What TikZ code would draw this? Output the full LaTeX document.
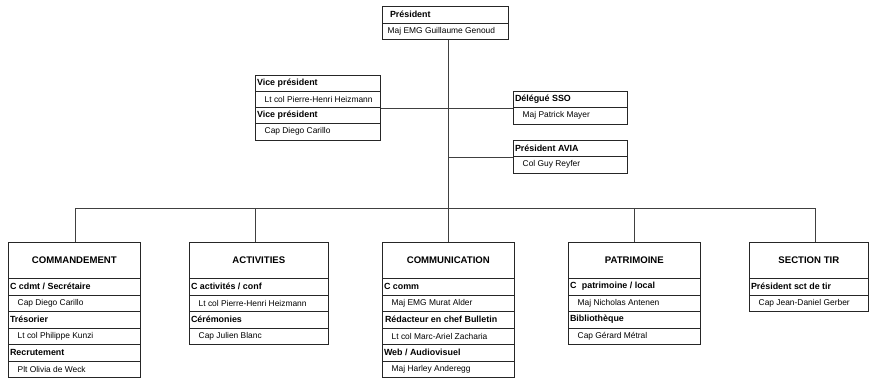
\documentclass[tikz,border=0pt]{standalone}
\usepackage{fontspec}
\setmainfont{Liberation Sans}
\tikzset{
  x=1pt, y=-1pt,
  cell/.style={draw=black!85, line width=0.7pt, rectangle, inner sep=0pt, anchor=north west, minimum height=16.5pt, fill=white},
  hdrtext/.style={anchor=west, xshift=1.8pt, inner sep=0pt, font=\fontsize{8.9}{10}\selectfont\bfseries},
  nmtext/.style={anchor=west, xshift=9.5pt, inner sep=0pt, font=\fontsize{8.4}{10}\selectfont},
  ttl/.style={draw=black!85, line width=0.7pt, rectangle, inner sep=0pt, anchor=north west, minimum height=36pt, font=\fontsize{9.6}{11}\selectfont\bfseries},
  conn/.style={draw=black!75, line width=0.7pt}
}
\newcommand\hrow[5]{\node[cell, minimum width=#4pt] (#1) at (#2,#3) {}; \node[hdrtext] (#1t) at (#1.west) {#5};}
\newcommand\nrow[5]{\node[cell, minimum width=#4pt] (#1) at (#2,#3) {}; \node[nmtext] (#1t) at (#1.west) {#5};}
\begin{document}
\begin{tikzpicture}
\useasboundingbox (0,0) rectangle (881,378);
% Président
\hrow{p1}{382}{6}{126}{\hspace{6pt}Président}
\nrow{p2}{382}{22.5}{126}{\hspace{-4pt}Maj EMG Guillaume Genoud}
% Vice présidents
\hrow{v1}{255}{75}{125}{Vice président}
\nrow{v2}{255}{91}{125}{Lt col Pierre-Henri Heizmann}
\hrow{v3}{255}{107}{125}{Vice président}
\nrow{v4}{255}{123}{125}{Cap Diego Carillo}
% Délégué SSO
\hrow{s1}{513}{91}{114}{Délégué SSO}
\nrow{s2}{513}{107}{114}{Maj Patrick Mayer}
% Président AVIA
\hrow{a1}{513}{140}{114}{Président AVIA}
\nrow{a2}{513}{156}{114}{Col Guy Reyfer}
% Commandement
\node[ttl, minimum width=132pt] (cmdT) at (8,242) {COMMANDEMENT};
\hrow{c1}{8}{278}{132}{C cdmt / Secrétaire}
\nrow{c2}{8}{294.5}{132}{Cap Diego Carillo}
\hrow{c3}{8}{311}{132}{Trésorier}
\nrow{c4}{8}{327.5}{132}{Lt col Philippe Kunzi}
\hrow{c5}{8}{344}{132}{Recrutement}
\nrow{c6}{8}{360.5}{132}{Plt Olivia de Weck}
% Activities
\node[ttl, minimum width=139pt] (actT) at (189,242) {ACTIVITIES};
\hrow{ac1}{189}{278}{139}{C activités / conf}
\nrow{ac2}{189}{294.5}{139}{Lt col Pierre-Henri Heizmann}
\hrow{ac3}{189}{311}{139}{Cérémonies}
\nrow{ac4}{189}{327.5}{139}{Cap Julien Blanc}
% Communication
\node[ttl, minimum width=132pt] (comT) at (382,242) {COMMUNICATION};
\hrow{co1}{382}{278}{132}{C comm}
\nrow{co2}{382}{294.5}{132}{Maj EMG Murat Alder}
\hrow{co3}{382}{311}{132}{\hspace{1pt}Rédacteur en chef Bulletin}
\nrow{co4}{382}{327.5}{132}{Lt col Marc-Ariel Zacharia}
\hrow{co5}{382}{344}{132}{Web / Audiovisuel}
\nrow{co6}{382}{360.5}{132}{Maj Harley Anderegg}
% Patrimoine
\node[ttl, minimum width=132pt] (patT) at (568,242) {PATRIMOINE};
\hrow{pa1}{568}{278}{132}{C\hspace{3pt} patrimoine / local}
\nrow{pa2}{568}{294.5}{132}{Maj Nicholas Antenen}
\hrow{pa3}{568}{311}{132}{Bibliothèque}
\nrow{pa4}{568}{327.5}{132}{Cap Gérard Métral}
% Section tir
\node[ttl, minimum width=119pt] (tirT) at (749,242) {SECTION TIR};
\hrow{t1}{749}{278}{119}{Président sct de tir}
\nrow{t2}{749}{294.5}{119}{Cap Jean-Daniel Gerber}
% connectors
\draw[conn] (p2.south -| comT.north) -- (comT.north);
\draw[conn] (v2.south east) -- (s1.south west);
\draw[conn] (a1.south west) -- (a1.south west -| comT.north);
\draw[conn] ([xshift=1pt]cmdT.north) -- ++(0,-34) -| ([xshift=6.5pt]tirT.north);
\draw[conn] ([xshift=-3.5pt]actT.north) -- ++(0,-34);
\draw[conn] (patT.north) -- ++(0,-34);
\end{tikzpicture}
\end{document}
